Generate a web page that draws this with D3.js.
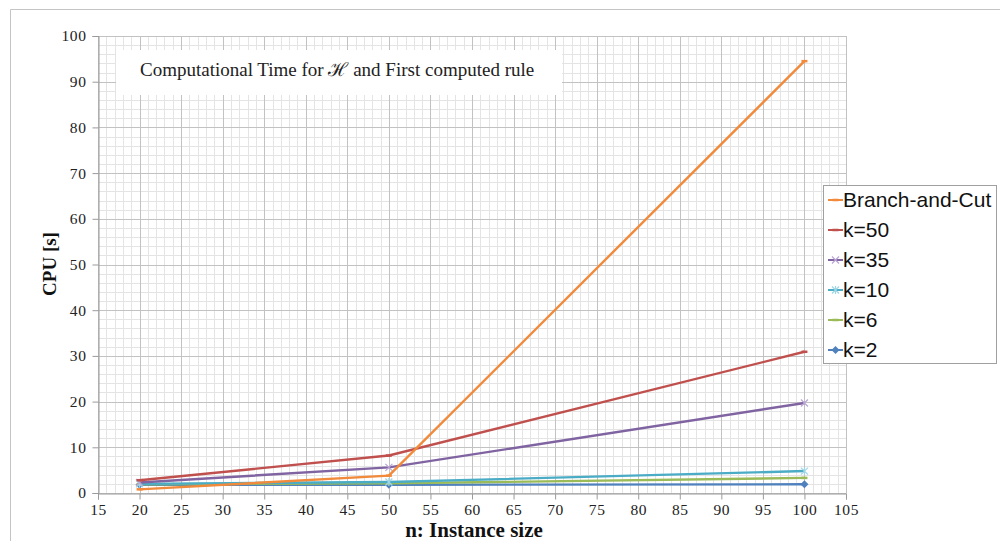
<!DOCTYPE html>
<html><head><meta charset="utf-8">
<script src="https://cdn.jsdelivr.net/npm/d3@7"></script>
<style>body{margin:0;background:#fff}svg{display:block}</style>
</head><body>
<svg id="c" width="1000" height="541"></svg>
<script>
const xs = [20, 50, 100];
const seriesNames = ["Branch-and-Cut", "k=50", "k=35", "k=10", "k=6", "k=2"];
const bc  = [0.8, 3.8, 94.5];
const k50 = [2.8, 8.2, 30.9];
const k35 = [2.3, 5.6, 19.7];
const k10 = [2.0, 2.4, 4.8];
const k6  = [1.9, 2.1, 3.3];
const k2  = [1.8, 1.8, 1.9];
const colors = ["#F28A3C", "#C0504D", "#8064A2", "#4BACC6", "#9BBB59", "#4F81BD"];
const markers = ["dash", "dash", "x", "star", "dash", "diamond"];
const xTicks = d3.range(15, 106, 5);
const yTicks = d3.range(0, 101, 10);
const title = "Computational Time for \u210B and First computed rule";
const xLabel = "n: Instance size";
const yLabel = "CPU [s]";

const values = [bc, k50, k35, k10, k6, k2];
const svg = d3.select("#c");
const L = 98, R = 846, T = 36, B = 493;
const x = d3.scaleLinear().domain([15, 105]).range([L, R]);
const y = d3.scaleLinear().domain([0, 100]).range([B, T]);

// outer frame
svg.append("path").attr("d", `M10.5,541 V9.5 H1000`).attr("fill","none").attr("stroke","#c4c4c4");

const g = svg.append("g");
// minor grid
d3.range(16, 106, 1).filter(v => v % 5 !== 0).forEach(v => {
  g.append("line").attr("x1", Math.round(x(v))+0.5).attr("x2", Math.round(x(v))+0.5).attr("y1", T).attr("y2", B).attr("stroke","#e4e4e4");
});
d3.range(2, 100, 2).filter(v => v % 10 !== 0).forEach(v => {
  g.append("line").attr("y1", Math.round(y(v))+0.5).attr("y2", Math.round(y(v))+0.5).attr("x1", L).attr("x2", R).attr("stroke","#e4e4e4");
});
// major grid
xTicks.forEach(v => {
  g.append("line").attr("x1", Math.round(x(v))+0.5).attr("x2", Math.round(x(v))+0.5).attr("y1", T).attr("y2", B).attr("stroke","#c2c2c2");
});
yTicks.forEach(v => {
  g.append("line").attr("y1", Math.round(y(v))+0.5).attr("y2", Math.round(y(v))+0.5).attr("x1", L).attr("x2", R).attr("stroke","#c2c2c2");
});

// axes
const xAxis = d3.axisBottom(x).tickValues(xTicks).tickSize(6).tickPadding(4);
const yAxis = d3.axisLeft(y).tickValues(yTicks).tickSize(6).tickPadding(6);
const ax = svg.append("g").attr("transform", `translate(0,${Math.round(B)+0.5})`).call(xAxis);
const ay = svg.append("g").attr("transform", `translate(${Math.round(L)+0.5},0)`).call(yAxis);
[ax, ay].forEach(a => {
  a.select(".domain").attr("stroke", "#9a9a9a");
  a.selectAll(".tick line").attr("stroke", "#9a9a9a");
  a.selectAll(".tick text").attr("fill", "#222").style("font-family", "'Liberation Serif', serif").style("font-size", "15.5px").style("letter-spacing", "0.6px");
});

// title box
svg.append("rect").attr("x", 116).attr("y", 50).attr("width", 446).attr("height", 45).attr("fill", "#fff");
svg.append("text").attr("x", 140).attr("y", 76).text(title)
  .style("font-family", "'Liberation Serif', serif").style("font-size", "19px").attr("fill", "#222");

// lines
const line = d3.line().x((d, i) => x(xs[i])).y(d => y(d));
function marker(sel, type, c) {
  if (type === "dash") sel.append("path").attr("d", "M-3,0H3").attr("stroke", c).attr("stroke-width", 2.5);
  else if (type === "diamond") sel.append("path").attr("d", "M0,-4L4,0L0,4L-4,0Z").attr("fill", c);
  else if (type === "x") sel.append("path").attr("d", "M-3.5,-3.5L3.5,3.5M-3.5,3.5L3.5,-3.5").attr("stroke", c).attr("stroke-width", 1.2);
  else sel.append("path").attr("d", "M-3.5,-3.5L3.5,3.5M-3.5,3.5L3.5,-3.5M0,-4V4").attr("stroke", c).attr("stroke-width", 1.2);
}
const order = [5, 4, 3, 2, 1, 0];
order.forEach(si => {
  svg.append("path").datum(values[si]).attr("d", line).attr("fill", "none")
    .attr("stroke", colors[si]).attr("stroke-width", 2.4).attr("stroke-linejoin", "round");
  values[si].forEach((v, i) => {
    const m = svg.append("g").attr("transform", `translate(${x(xs[i])},${y(v)})`);
    marker(m, markers[si], si === 2 ? "#b9a6d4" : si === 3 ? "#9fd6e6" : colors[si]);
  });
});

// axis titles
svg.append("text").attr("x", 474).attr("y", 537).attr("text-anchor", "middle").text(xLabel)
  .style("font-family", "'Liberation Serif', serif").style("font-weight", "bold").style("font-size", "21px").attr("fill", "#111");
svg.append("text").attr("transform", "translate(56,264) rotate(-90)").attr("text-anchor", "middle").text(yLabel)
  .style("font-family", "'Liberation Serif', serif").style("font-weight", "bold").style("font-size", "19px").attr("fill", "#111");

// legend
const lg = svg.append("g");
lg.append("rect").attr("x", 823.5).attr("y", 185.5).attr("width", 173).attr("height", 178).attr("fill", "#fff").attr("stroke", "#a0a0a0");
seriesNames.forEach((n, i) => {
  const yy = 200 + i * 30;
  lg.append("line").attr("x1", 828).attr("x2", 843).attr("y1", yy).attr("y2", yy).attr("stroke", colors[i]).attr("stroke-width", 2);
  const m = lg.append("g").attr("transform", `translate(835.5,${yy})`);
  marker(m, markers[i], i === 2 ? "#b9a6d4" : i === 3 ? "#9fd6e6" : colors[i]);
  lg.append("text").attr("x", 843).attr("y", yy + 7).text(n)
    .style("font-family", "'Liberation Sans', sans-serif").style("font-size", "21px").attr("fill", "#111");
});
</script>
</body></html>
